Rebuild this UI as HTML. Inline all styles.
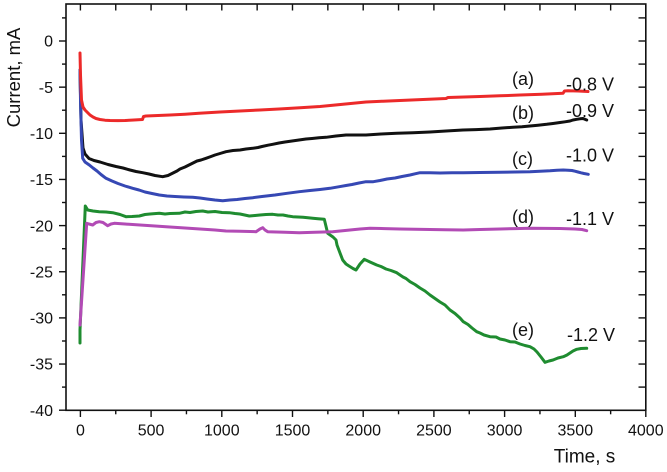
<!DOCTYPE html>
<html>
<head>
<meta charset="utf-8">
<style>
html,body{margin:0;padding:0;background:#fff;}
svg{display:block;}
text{font-family:"Liberation Sans",Arial,sans-serif;fill:#111;}
</style>
</head>
<body>
<svg width="667" height="472" viewBox="0 0 667 472" xmlns="http://www.w3.org/2000/svg">
<rect x="0" y="0" width="667" height="472" fill="#fff"/>

<!-- axes box -->
<g stroke="#111" stroke-width="1.6" fill="none">
  <rect x="66" y="4" width="579.8" height="406.3"/>
</g>

<!-- left ticks (outward) -->
<g stroke="#111" stroke-width="1.4">
  <line x1="59" y1="41" x2="66" y2="41"/>
  <line x1="59" y1="87.15" x2="66" y2="87.15"/>
  <line x1="59" y1="133.3" x2="66" y2="133.3"/>
  <line x1="59" y1="179.45" x2="66" y2="179.45"/>
  <line x1="59" y1="225.6" x2="66" y2="225.6"/>
  <line x1="59" y1="271.75" x2="66" y2="271.75"/>
  <line x1="59" y1="317.9" x2="66" y2="317.9"/>
  <line x1="59" y1="364.05" x2="66" y2="364.05"/>
  <line x1="59" y1="410.2" x2="66" y2="410.2"/>
  <line x1="62" y1="17.9" x2="66" y2="17.9"/>
  <line x1="62" y1="64.1" x2="66" y2="64.1"/>
  <line x1="62" y1="110.2" x2="66" y2="110.2"/>
  <line x1="62" y1="156.4" x2="66" y2="156.4"/>
  <line x1="62" y1="202.5" x2="66" y2="202.5"/>
  <line x1="62" y1="248.7" x2="66" y2="248.7"/>
  <line x1="62" y1="294.8" x2="66" y2="294.8"/>
  <line x1="62" y1="341" x2="66" y2="341"/>
  <line x1="62" y1="387.1" x2="66" y2="387.1"/>
</g>
<!-- right ticks (inward) -->
<g stroke="#111" stroke-width="1.4">
  <line x1="638.5" y1="17.9" x2="645.8" y2="17.9"/>
  <line x1="638.5" y1="41" x2="645.8" y2="41"/>
  <line x1="638.5" y1="64.1" x2="645.8" y2="64.1"/>
  <line x1="638.5" y1="87.15" x2="645.8" y2="87.15"/>
  <line x1="638.5" y1="110.2" x2="645.8" y2="110.2"/>
  <line x1="638.5" y1="133.3" x2="645.8" y2="133.3"/>
  <line x1="638.5" y1="156.4" x2="645.8" y2="156.4"/>
  <line x1="638.5" y1="179.45" x2="645.8" y2="179.45"/>
  <line x1="638.5" y1="202.5" x2="645.8" y2="202.5"/>
  <line x1="638.5" y1="225.6" x2="645.8" y2="225.6"/>
  <line x1="638.5" y1="248.7" x2="645.8" y2="248.7"/>
  <line x1="638.5" y1="271.75" x2="645.8" y2="271.75"/>
  <line x1="638.5" y1="294.8" x2="645.8" y2="294.8"/>
  <line x1="638.5" y1="317.9" x2="645.8" y2="317.9"/>
  <line x1="638.5" y1="341" x2="645.8" y2="341"/>
  <line x1="638.5" y1="364.05" x2="645.8" y2="364.05"/>
  <line x1="638.5" y1="387.1" x2="645.8" y2="387.1"/>
</g>
<!-- bottom ticks (outward) -->
<g stroke="#111" stroke-width="1.4">
  <line x1="80.4" y1="410.3" x2="80.4" y2="417"/>
  <line x1="151.1" y1="410.3" x2="151.1" y2="417"/>
  <line x1="221.8" y1="410.3" x2="221.8" y2="417"/>
  <line x1="292.5" y1="410.3" x2="292.5" y2="417"/>
  <line x1="363.2" y1="410.3" x2="363.2" y2="417"/>
  <line x1="433.9" y1="410.3" x2="433.9" y2="417"/>
  <line x1="504.6" y1="410.3" x2="504.6" y2="417"/>
  <line x1="575.3" y1="410.3" x2="575.3" y2="417"/>
  <line x1="645.8" y1="410.3" x2="645.8" y2="417"/>
  <line x1="115.75" y1="410.3" x2="115.75" y2="414.3"/>
  <line x1="186.45" y1="410.3" x2="186.45" y2="414.3"/>
  <line x1="257.15" y1="410.3" x2="257.15" y2="414.3"/>
  <line x1="327.85" y1="410.3" x2="327.85" y2="414.3"/>
  <line x1="398.55" y1="410.3" x2="398.55" y2="414.3"/>
  <line x1="469.25" y1="410.3" x2="469.25" y2="414.3"/>
  <line x1="539.95" y1="410.3" x2="539.95" y2="414.3"/>
  <line x1="610.65" y1="410.3" x2="610.65" y2="414.3"/>
</g>
<!-- top ticks (inward) -->
<g stroke="#111" stroke-width="1.4">
  <line x1="80.4" y1="4" x2="80.4" y2="10.5"/>
  <line x1="115.75" y1="4" x2="115.75" y2="10.5"/>
  <line x1="151.1" y1="4" x2="151.1" y2="10.5"/>
  <line x1="186.45" y1="4" x2="186.45" y2="10.5"/>
  <line x1="221.8" y1="4" x2="221.8" y2="10.5"/>
  <line x1="257.15" y1="4" x2="257.15" y2="10.5"/>
  <line x1="292.5" y1="4" x2="292.5" y2="10.5"/>
  <line x1="327.85" y1="4" x2="327.85" y2="10.5"/>
  <line x1="363.2" y1="4" x2="363.2" y2="10.5"/>
  <line x1="398.55" y1="4" x2="398.55" y2="10.5"/>
  <line x1="433.9" y1="4" x2="433.9" y2="10.5"/>
  <line x1="469.25" y1="4" x2="469.25" y2="10.5"/>
  <line x1="504.6" y1="4" x2="504.6" y2="10.5"/>
  <line x1="539.95" y1="4" x2="539.95" y2="10.5"/>
  <line x1="575.3" y1="4" x2="575.3" y2="10.5"/>
  <line x1="610.65" y1="4" x2="610.65" y2="10.5"/>
</g>

<!-- y tick labels -->
<g font-size="16" text-anchor="end">
  <text x="53" y="46.7">0</text>
  <text x="53" y="92.8">-5</text>
  <text x="53" y="139">-10</text>
  <text x="53" y="185.1">-15</text>
  <text x="53" y="231.3">-20</text>
  <text x="53" y="277.4">-25</text>
  <text x="53" y="323.6">-30</text>
  <text x="53" y="369.7">-35</text>
  <text x="53" y="415.9">-40</text>
</g>
<!-- x tick labels -->
<g font-size="16" text-anchor="middle">
  <text x="80.4" y="435.5">0</text>
  <text x="151.1" y="435.5">500</text>
  <text x="221.8" y="435.5">1000</text>
  <text x="292.5" y="435.5">1500</text>
  <text x="363.2" y="435.5">2000</text>
  <text x="433.9" y="435.5">2500</text>
  <text x="504.6" y="435.5">3000</text>
  <text x="575.3" y="435.5">3500</text>
  <text x="645.8" y="435.5">4000</text>
</g>

<!-- axis titles -->
<text x="0" y="0" font-size="18.5" text-anchor="middle" transform="translate(20,77.5) rotate(-90)">Current, mA</text>
<text x="584.5" y="462.5" font-size="19" text-anchor="middle">Time, s</text>

<!-- series -->
<g fill="none" stroke-width="3" stroke-linejoin="round" stroke-linecap="round">
  <!-- (e) green -1.2 V -->
  <polyline stroke="#1f8c30" points="80,343 80,330 85.3,206 87.7,210 93,211 99.3,211.7 106,212 112.7,212.7 120,214.5 126,216.7 132,216.5 139.3,216 145,214.5 150,214 159.3,213.3 165,214 170,213.5 179.3,213.3 185,212 190,212.5 196,211.5 202.7,211 208,212 215,211.5 222,212.5 229.3,212.7 235,213.5 240,214 249.3,216 255,215.5 260,215 266,214.5 272.7,214.3 278,215 283,215 288,216 292.7,216.7 298,217 303,217.3 308,217.8 312.7,218.3 318,218.8 324.3,219.3 327.7,233.3 333,237 336,240 337,245 340,253 342.7,260 346,264 349,266 353,268.5 356,270 360,264 364.3,259.3 370,262 376.7,265 381,266.5 386,269 391,270.5 396.7,272.7 403,277 406,278.5 410,281.7 415,284.5 420,288 425,291 430,295 435,298.5 440,302 445,305 450,310 455,313.5 460,318 463.3,321.7 468,324.5 472,328 476.7,331.7 480,333 484,335 490,336.7 496,337 500,339 505,340 510,341.7 515,342 520,344 525,345.5 530,346.7 534,349 537,352 541,357 545,362.3 549,361 553,360 558,358 563.3,356.7 567,355 570,353 573,351 576.7,349.3 581,348.5 586.7,348.3"/>
  <!-- (d) magenta -1.1 V -->
  <polyline stroke="#b24bb5" points="80,325 86.7,223.3 89,224 92.7,225 96,222.5 99.3,221.7 103,222.5 107.7,225.7 111,224 114.3,223.3 125,224 140,225 155,226 166,226.7 185,228 200,229 215,230 226,231 240,231.3 256,231.7 260,229 262.7,227.7 265,230 267.7,231.7 285,232.3 299.3,232.7 315,232.3 332.7,231.7 350,230 360,229 370,228.3 385,228.6 400,229 415,229.3 430,229.5 445,229.7 463.3,230 480,229.5 500,229 515,228.6 530,228.3 545,228.4 560,228.5 575,229 582,229.5 586.7,230.7"/>
  <!-- (b) black -0.9 V -->
  <polyline stroke="#111" points="80,70 81,120 83,148 85,154 89,158.5 94,160.5 100,162 108,164.5 116,166.5 123,168 130,170 136,171.5 142.7,172.7 149,174 155,175.5 162.7,176.7 168,175.5 173,173 177,171 180,169 185,167 189,165 193,163 197,161 201,160 206,158.3 211,156.5 215,155 220,153.5 226,151.7 233,150.5 240,150 246,149 252.7,148.3 258,147.5 262,146.5 268,145.2 272.7,144.3 279,143 285,142 292,141 299,140 306,139 312,138.5 319,137.8 326,137.3 336,136 346,135 356,135 366,135 381,134 396.7,133.3 413,132.8 430,132 446,131 463,130 476,129.6 490,129 502,128 513,127.3 522,126.8 530,126 538,125.2 546.7,124.3 553,123.5 560,122.5 565,121.8 570,121 573,120 576.7,119.3 580,118.8 583,118.5 586.7,120"/>
  <!-- (c) blue -1.0 V -->
  <polyline stroke="#3648b4" points="80,70 80.5,100 81.5,140 82.7,158.3 85,162 89.3,165 93,168 97,171 101,174.5 106,178.3 112,181 118,183.5 125,186 132.7,188.3 139,190 145,192 152,193.5 159.3,195 167,196 175,196.5 184,197 192.7,197.3 200,198 207,199 215,200 222.7,200.7 230,200 237,199.5 245,198.5 252.7,197.7 262,196.5 275,195 287,193.3 299.3,191.7 310,190.5 320,189.5 330,188.3 339.3,186.7 346,185.5 352,184.5 359,183 366,181.7 373.3,181.7 380,180.5 387,179 395,178 402,176.5 410,175 415,173.8 420,172.7 430,172.8 440,173 452,172.8 463.3,172.7 480,172.5 500,172.2 515,172 530,171.7 540,171.2 550,170.8 557,170.3 563.3,170 568,170.2 572,170.5 575,171.2 578,172 581,172.8 584,173.5 588.3,174.3"/>
  <!-- (a) red -0.8 V -->
  <polyline stroke="#ec2a2a" points="80,53 80.5,75 81.5,100 83,107 85,110 87,112 90,115 93,117 96,118.5 100,119.5 105,120.2 110,120.5 118,120.6 125,120.5 134,120 142.5,119.5 143.5,116.5 146,116 158,115.5 170,115 185,114.2 199,113.3 220,112 240,111 260,110 279,109 300,107.8 320,106.5 343,104.3 366,102 383,101.2 400,100.5 423,99.5 446,98.5 448,97.5 464,97 480,96.5 500,95.8 520,95 542,94.2 563,93.3 564.5,91 568,90.8 578,91 588,91.5"/>
</g>

<!-- annotations -->
<g font-size="18">
  <text x="512" y="85">(a)</text>
  <text x="566" y="90.5">-0.8 V</text>
  <text x="512" y="119">(b)</text>
  <text x="566" y="117">-0.9 V</text>
  <text x="512" y="165">(c)</text>
  <text x="566" y="161.5">-1.0 V</text>
  <text x="512" y="223">(d)</text>
  <text x="566" y="225">-1.1 V</text>
  <text x="512" y="336">(e)</text>
  <text x="567" y="341">-1.2 V</text>
</g>
</svg>
</body>
</html>
